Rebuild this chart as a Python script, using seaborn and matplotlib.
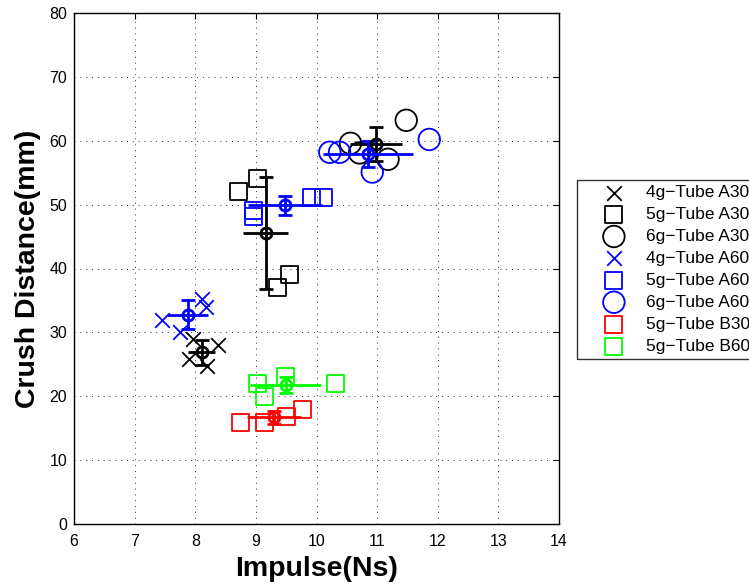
import numpy as np
import pandas as pd
import matplotlib
matplotlib.use("Agg")
import matplotlib.pyplot as plt
import seaborn as sns

# ---- data ----
g4_a30_x = [7.97, 8.38, 7.89, 8.19]
g4_a30_y = [28.9, 28.0, 25.9, 24.7]
g5_a30_x = [9.02, 8.72, 9.56, 9.35]
g5_a30_y = [54.1, 52.1, 39.1, 37.1]
g6_a30_x = [11.48, 10.56, 10.71, 11.18]
g6_a30_y = [63.2, 59.6, 58.1, 57.1]
g4_a60_x = [7.45, 7.75, 8.11, 8.18]
g4_a60_y = [31.9, 30.0, 35.2, 34.0]
g5_a60_x = [9.91, 10.11, 8.96, 8.96]
g5_a60_y = [51.1, 51.1, 49.1, 48.2]
g6_a60_x = [10.22, 10.38, 10.92, 11.86]
g6_a60_y = [58.2, 58.2, 55.1, 60.2]
g5_b30_x = [8.75, 9.15, 9.51, 9.77]
g5_b30_y = [15.9, 15.9, 16.9, 18.0]
g5_b60_x = [9.02, 9.15, 9.49, 10.32]
g5_b60_y = [22.0, 20.0, 23.1, 22.0]

labels = ["4g\u2212Tube A30", "5g\u2212Tube A30", "6g\u2212Tube A30",
          "4g\u2212Tube A60", "5g\u2212Tube A60", "6g\u2212Tube A60",
          "5g\u2212Tube B30", "5g\u2212Tube B60"]
xs = [g4_a30_x, g5_a30_x, g6_a30_x, g4_a60_x, g5_a60_x, g6_a60_x, g5_b30_x, g5_b60_x]
ys = [g4_a30_y, g5_a30_y, g6_a30_y, g4_a60_y, g5_a60_y, g6_a60_y, g5_b30_y, g5_b60_y]
colors = ["black", "black", "black", "blue", "blue", "blue", "red", "#00ff00"]
markers = ["x", "s", "o", "x", "s", "o", "s", "s"]
sizes = {"x": 110, "s": 150, "o": 240}

x_ticks = list(range(6, 15))
y_ticks = list(range(0, 81, 10))

sns.set_theme(style="white")
plt.rcParams["font.family"] = ["Liberation Sans", "DejaVu Sans"]
plt.rcParams["text.color"] = "black"
plt.rcParams["axes.labelcolor"] = "black"
plt.rcParams["xtick.color"] = "black"
plt.rcParams["ytick.color"] = "black"

fig = plt.figure(figsize=(7.49, 5.84), dpi=100)
ax = fig.add_axes([74 / 749, 60 / 584, 485 / 749, 511 / 584])

for lab, gx, gy, c, m in zip(labels, xs, ys, colors, markers):
    df = pd.DataFrame({"x": gx, "y": gy})
    if m == "x":
        sns.scatterplot(data=df, x="x", y="y", ax=ax, marker=m, s=sizes[m],
                        color=c, linewidth=1.3, label=lab, zorder=3)
    else:
        sns.scatterplot(data=df, x="x", y="y", ax=ax, marker=m, s=sizes[m],
                        facecolors="none", edgecolors=c, linewidth=1.3,
                        label=lab, zorder=3)
    mx, my = df["x"].mean(), df["y"].mean()
    sx, sy = df["x"].std(ddof=1), df["y"].std(ddof=1)
    ax.errorbar(mx, my, yerr=sy, fmt="o", mfc="none", mec=c, mew=2, ms=8,
                ecolor=c, elinewidth=2, capsize=5, capthick=2, zorder=4)
    ax.errorbar(mx, my, xerr=sx, fmt="none", ecolor=c, elinewidth=2,
                capsize=0, zorder=4)

ax.set_xlim(6, 14)
ax.set_ylim(0, 80)
ax.set_xticks(x_ticks)
ax.set_yticks(y_ticks)
ax.tick_params(direction="in", length=4, width=0.8, top=True, right=True,
               labelsize=11.5, colors="black")
ax.tick_params(axis="x", pad=7)
ax.tick_params(axis="y", pad=5)
ax.grid(True, linestyle=(0, (1, 5)), color="black", linewidth=0.7, alpha=0.8)
for s in ax.spines.values():
    s.set_color("black")
    s.set_linewidth(1.0)
ax.set_xlabel("Impulse(Ns)", fontsize=20.5, fontweight="bold", labelpad=5)
ax.set_ylabel("Crush Distance(mm)", fontsize=20.5, fontweight="bold", labelpad=6)

leg = ax.legend(loc="upper left", bbox_to_anchor=(577 / 749, 1 - 180 / 584),
                bbox_transform=fig.transFigure, borderaxespad=0, fontsize=12.5,
                frameon=True, fancybox=False, edgecolor="black",
                handlelength=3.67, handletextpad=0.02, labelspacing=0.39,
                borderpad=0.29)
leg.get_frame().set_linewidth(1.0)

fig.savefig("out.png", dpi=100)
